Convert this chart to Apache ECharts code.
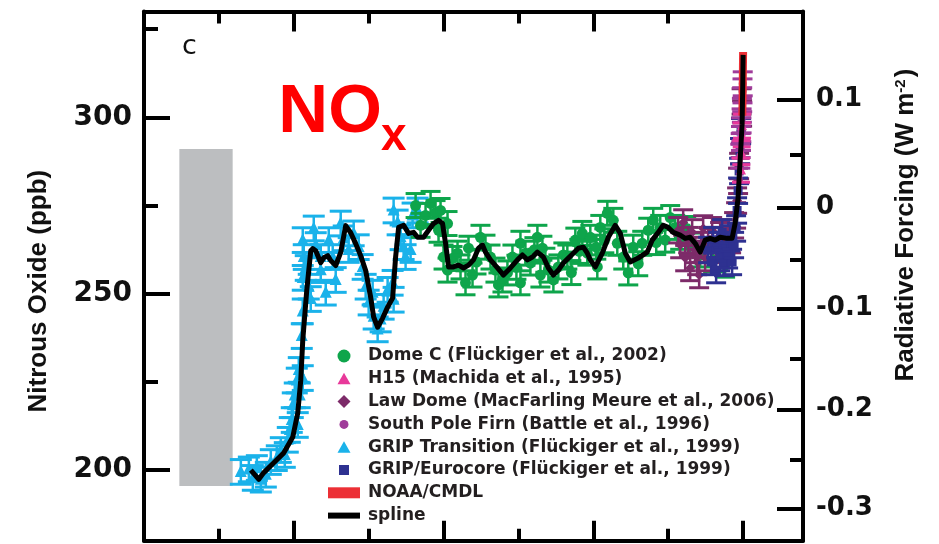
<!DOCTYPE html>
<html><head><meta charset="utf-8">
<script src="https://cdn.jsdelivr.net/npm/echarts@6/dist/echarts.min.js"></script>
<style>html,body{margin:0;padding:0;background:#fff}#c{width:939px;height:544px}</style>
</head><body><div id="c"></div>
<script>
// ---- Data (years before 2005, N2O ppb) ----
const splineYears = [16433,16167,16000,15667,15333,15033,14867,14767,14700,14567,14433,14367,14267,14100,14000,13867,13767,13600,13433,13267,13100,12933,12767,12600,12433,12333,12200,12033,11867,11700,11600,11500,11333,11167,11000,10867,10667,10500,10333,10167,10033,9933,9833,9667,9500,9333,9167,9000,8833,8700,8600,8433,8200,8000,7767,7533,7367,7200,7033,6867,6667,6500,6333,6167,6000,5833,5667,5500,5333,5200,5100,4933,4700,4500,4267,4100,3933,3767,3500,3200,3033,2833,2667,2500,2333,2100,1933,1767,1600,1433,1267,1100,933,767,533,367,267,167,100,33,10,0];
const splinePpb = [200.0,197.4,199.3,202.1,204.9,209.4,216.2,225.5,236.8,250.9,262.2,262.8,262.2,258.8,260.2,260.8,259.4,258.0,261.7,269.3,267.3,264.2,260.8,256.6,249.0,243.4,240.5,243.1,246.2,248.8,260.4,268.8,269.4,267.1,267.4,266.0,266.0,268.0,269.9,270.8,269.9,264.3,257.6,257.6,258.1,257.3,258.1,259.6,262.9,263.8,261.8,259.6,257.3,255.3,257.3,259.6,261.0,259.6,260.4,261.8,260.4,257.3,255.3,256.7,258.7,260.1,261.5,262.9,263.2,261.5,259.6,257.6,261.5,266.0,269.4,267.1,261.5,259.0,260.1,261.8,265.2,267.4,269.4,268.8,267.4,266.6,265.7,266.0,264.3,261.8,265.2,265.7,265.2,266.0,265.7,265.7,269.9,277.2,287.6,298.0,310.1,317.7];

const gripTransition = [[16767,199.5],[16500,200.2],[16367,197.8],[16233,200.6],[16100,197.3],[15933,198.7],[15767,202.3],[15567,203.4],[15433,205.7],[15300,204.3],[15200,208.6],[15133,211.4],[15067,214.2],[15033,218.4],[14967,221.2],[14900,225.4],[14867,212.8],[14833,228.4],[14800,221.2],[14700,226.1],[14733,238.0],[14700,245.0],[14700,265.2],[14667,260.4],[14700,254.5],[14600,257.3],[14500,252.0],[14433,248.5],[14333,268.5],[14267,263.8],[14100,260.4],[14100,256.7],[13933,250.3],[13833,265.2],[13700,260.4],[13600,253.9],[13433,269.9],[13333,265.7],[13167,262.4],[13000,267.1],[12833,263.2],[12700,257.6],[12600,252.0],[12500,247.5],[12367,250.3],[12333,243.5],[12200,239.9],[12100,242.7],[12000,246.3],[11867,251.1],[11700,253.1],[11667,248.3],[11667,273.6],[11533,270.2],[11433,266.0],[11333,263.2],[11267,260.4],[11100,262.4],[11033,272.2],[10867,273.6]];
const domeC = [[10933,275.0],[10767,269.4],[10600,272.2],[10433,275.6],[10267,273.0],[10167,268.0],[10100,273.6],[9867,269.9],[10000,260.4],[9867,256.7],[9700,260.0],[9533,261.5],[9433,257.6],[9267,253.1],[9167,262.9],[9033,255.3],[8900,259.0],[8767,266.0],[8600,263.2],[8433,260.4],[8267,256.7],[8167,252.5],[8033,253.9],[7867,255.9],[7700,260.4],[7567,257.5],[7433,264.3],[7433,253.1],[7267,261.5],[7100,258.7],[6967,262.5],[6867,266.0],[6767,255.3],[6700,262.9],[6600,259.5],[6500,256.7],[6333,253.9],[6167,257.6],[6000,261.0],[5867,260.4],[5733,256.0],[5600,265.2],[5467,262.0],[5367,267.1],[5200,261.5],[5100,266.0],[4900,263.2],[4867,257.6],[4767,268.8],[4633,265.0],[4533,272.8],[4333,270.8],[4200,264.3],[4000,260.4],[3833,255.9],[3667,263.2],[3500,258.5],[3367,264.3],[3167,268.0],[3000,270.8],[2900,264.5],[2767,268.8],[2600,265.2],[2433,271.6],[2267,268.8],[2100,266.0],[1900,268.5],[1767,263.8],[1433,261.0],[1000,259.6],[600,258.1]];
const lawDome = [[2167,268.0],[2100,263.8],[2000,270.2],[1933,260.1],[1833,265.2],[1767,257.3],[1700,267.4],[1600,262.4],[1533,259.0],[1467,255.3],[1400,263.8],[1333,268.5],[1267,260.1],[1167,265.2],[1033,268.0],[900,262.4],[767,266.6],[633,263.8],[500,267.4],[400,265.2],[300,269.4],[233,272.2],[200,276.4],[167,282.0],[133,286.2],[100,290.4],[67,296.1],[50,304.5],[33,301.1]];
const gripEurocore = [[1167,262.4],[1067,259.0],[1000,265.2],[900,256.7],[833,263.8],[767,260.1],[700,267.4],[633,258.7],[567,262.9],[500,260.9],[433,265.7],[367,259.0],[300,263.8],[233,268.5],[200,273.6],[167,279.2],[133,284.8],[100,290.4],[67,296.1]];
const southPoleFirn = [[95,289.0],[80,292.0],[70,294.0],[60,296.5],[50,299.0],[40,302.0],[30,305.0],[20,307.5],[12,309.5]];
const h15 = [[70,285.0],[60,290.0],[45,295.0],[35,297.5]];
const noaaYears = [27,20,15,10,5,0];
const noaaPpb = [300.5,303.5,306.5,310.5,314.5,318.5];
const grayBarYears = [18820,17040];
const grayBarPpb = [195.5,291.0];

const errGrip = 3.5, errDomeC = 3.4, errLaw = 3.6, errEuro = 3.6, errFirn = 3.4, errH15 = 3.4;

const ppbTicksMajor = [200,250,300];
const ppbTicksMinor = [225,275,325];
const rfLabels = ['0.1','0','-0.1','-0.2','-0.3'];
const rfTickPpb = [305.0,274.4,245.8,217.2,189.1];
const rfMinorPpb = [289.4,259.6,231.6,202.9];
const yearTicksMajor = [0,5000,10000,15000];
const yearTicksMinor = [2500,7500,12500,17500];

const names = {
  domeC:'Dome C (Flückiger et al., 2002)',
  h15:'H15 (Machida et al., 1995)',
  law:'Law Dome (MacFarling Meure et al., 2006)',
  firn:'South Pole Firn (Battle et al., 1996)',
  grip:'GRIP Transition (Flückiger et al., 1999)',
  euro:'GRIP/Eurocore (Flückiger et al., 1999)',
  noaa:'NOAA/CMDL',
  spline:'spline'
};

function marker(shape, cx, cy, s, color) {
  if (shape === 'circle') return {type:'circle', shape:{cx, cy, r:s/2}, style:{fill:color}};
  if (shape === 'rect') return {type:'rect', shape:{x:cx-s/2, y:cy-s/2, width:s, height:s}, style:{fill:color}};
  if (shape === 'diamond') return {type:'polygon', shape:{points:[[cx,cy-s/2],[cx+s/2,cy],[cx,cy+s/2],[cx-s/2,cy]]}, style:{fill:color}};
  return {type:'polygon', shape:{points:[[cx,cy-s*0.58],[cx-s/2,cy+s*0.42],[cx+s/2,cy+s*0.42]]}, style:{fill:color}};
}
function errSeries(name, data, err, color, shape, size, capW, z) {
  return {
    name, type:'custom', z, color, itemStyle:{color},
    dimensions:['yr','ppb','err'],
    encode:{x:0, y:1},
    data: data.map(d => [d[0], d[1], err]),
    renderItem: function (params, api) {
      const x = api.value(0), y = api.value(1), e = api.value(2);
      const p = api.coord([x, y]);
      const lo = api.coord([x, y - e]);
      const hi = api.coord([x, y + e]);
      const hw = capW / 2;
      return {type:'group', children:[
        {type:'line', shape:{x1:p[0], y1:lo[1], x2:p[0], y2:hi[1]}, style:{stroke:color, lineWidth:2.5}},
        {type:'line', shape:{x1:p[0]-hw, y1:lo[1], x2:p[0]+hw, y2:lo[1]}, style:{stroke:color, lineWidth:3}},
        {type:'line', shape:{x1:p[0]-hw, y1:hi[1], x2:p[0]+hw, y2:hi[1]}, style:{stroke:color, lineWidth:3}},
        marker(shape, p[0], p[1], size, color)
      ]};
    }
  };
}

const chart = echarts.init(document.getElementById('c'), null, {renderer:'canvas'});
const tickFont = {fontFamily:'DejaVu Sans', fontWeight:'bold', color:'#111'};
const xBase = {type:'value', min:-2000, max:20000, inverse:true, gridIndex:0,
  axisLabel:{show:false}, splitLine:{show:false}};
const yBase = {type:'value', min:180, max:330, splitLine:{show:false}};
const frameLine = {show:true, onZero:false, lineStyle:{color:'#000', width:4}};
const noLine = {show:false, onZero:false};
const triIcon = 'path://M0,0M13,13M6.5,0.5L13,12L0,12Z';

const option = {
  backgroundColor:'#fff',
  animation:false,
  grid:{left:144, right:136, top:11.5, bottom:3.3, containLabel:false, outerBoundsMode:'none'},
  xAxis:[
    Object.assign({}, xBase, {position:'bottom', axisLine:frameLine,
      axisTick:{show:true, inside:true, length:20, customValues:yearTicksMajor, lineStyle:{color:'#000', width:4}}}),
    Object.assign({}, xBase, {position:'bottom', axisLine:noLine,
      axisTick:{show:true, inside:true, length:12, customValues:yearTicksMinor, lineStyle:{color:'#000', width:4}}}),
    Object.assign({}, xBase, {position:'top', axisLine:frameLine,
      axisTick:{show:true, inside:true, length:20, customValues:yearTicksMajor, lineStyle:{color:'#000', width:4}}}),
    Object.assign({}, xBase, {position:'top', axisLine:noLine,
      axisTick:{show:true, inside:true, length:12, customValues:yearTicksMinor, lineStyle:{color:'#000', width:4}}})
  ],
  yAxis:[
    Object.assign({}, yBase, {position:'left', axisLine:frameLine,
      axisTick:{show:true, inside:true, length:26, customValues:ppbTicksMajor, lineStyle:{color:'#000', width:4}},
      axisLabel:{show:true, customValues:ppbTicksMajor, margin:12, fontSize:28, ...tickFont},
      name:'Nitrous Oxide (ppb)', nameLocation:'middle', nameGap:92,
      nameTextStyle:{fontFamily:'Liberation Sans', fontWeight:'bold', fontSize:26, color:'#111', padding:[0,30,0,0]}}),
    Object.assign({}, yBase, {position:'left', axisLine:noLine, axisLabel:{show:false},
      axisTick:{show:true, inside:true, length:14, customValues:ppbTicksMinor, lineStyle:{color:'#000', width:4}}}),
    Object.assign({}, yBase, {position:'right', axisLine:frameLine,
      axisTick:{show:true, inside:true, length:26, customValues:rfTickPpb, lineStyle:{color:'#000', width:4}},
      axisLabel:{show:true, customValues:rfTickPpb, margin:13, fontSize:26, ...tickFont,
        formatter:function(v){ let bi=0; rfTickPpb.forEach((t,i)=>{ if (Math.abs(t-v) < Math.abs(rfTickPpb[bi]-v)) bi=i; }); return rfLabels[bi]; }},
      name:'Radiative Forcing (W m{sup|-2})', nameLocation:'middle', nameGap:90,
      nameTextStyle:{fontFamily:'Liberation Sans', fontWeight:'bold', fontSize:26, color:'#111', padding:[0,0,0,102],
        rich:{sup:{fontFamily:'Liberation Sans', fontWeight:'bold', fontSize:15, color:'#111', verticalAlign:'top', lineHeight:14, padding:[0,2,10,0]}}}}),
    Object.assign({}, yBase, {position:'right', axisLine:noLine, axisLabel:{show:false},
      axisTick:{show:true, inside:true, length:13, customValues:rfMinorPpb, lineStyle:{color:'#000', width:4}}})
  ],
  legend:{
    orient:'vertical', left:323, top:342, itemWidth:32, itemHeight:13, itemGap:4.8, selectedMode:false,
    symbolKeepAspect:true,
    textStyle:{fontFamily:'DejaVu Sans', fontWeight:'bold', fontSize:17, color:'#231f20', lineHeight:18, padding:[0,0,0,3]},
    data:[
      {name:names.domeC, icon:'circle', symbolKeepAspect:true},
      {name:names.h15, icon:triIcon, symbolKeepAspect:true},
      {name:names.law, icon:'path://M0,0M13,13M6.5,0L13,6.5L6.5,13L0,6.5Z', symbolKeepAspect:true},
      {name:names.firn, icon:'path://M0,0M13,13M2,6.5a4.5,4.5 0 1,0 9,0a4.5,4.5 0 1,0 -9,0z', symbolKeepAspect:true},
      {name:names.grip, icon:triIcon, symbolKeepAspect:true},
      {name:names.euro, icon:'path://M0,0M13,13M1.5,1.5h10v10h-10z', symbolKeepAspect:true},
      {name:names.noaa, icon:'path://M0,0h32v11h-32z', symbolKeepAspect:true},
      {name:names.spline, icon:'path://M0,0h32v6h-32z', symbolKeepAspect:true}
    ]
  },
  graphic:[
    {type:'text', x:189.5, y:47, style:{text:'c', font:'27px "DejaVu Sans"', fill:'#111', textAlign:'center', textVerticalAlign:'middle'}},
    {type:'text', x:278.3, y:113.3, style:{text:'NO', font:'bold 69px "Liberation Sans"', fill:'#ff0000', textAlign:'left', textVerticalAlign:'middle'}},
    {type:'text', x:381, y:137.5, style:{text:'x', font:'bold 46px "Liberation Sans"', fill:'#ff0000', textAlign:'left', textVerticalAlign:'middle'}}
  ],
  series:[
    errSeries(names.grip, gripTransition, errGrip, '#1ab2ea', 'triangle', 12, 22, 2),
    errSeries(names.domeC, domeC, errDomeC, '#0ea54b', 'circle', 11, 20, 3),
    errSeries(names.law, lawDome, errLaw, '#7d2b69', 'diamond', 10, 20, 4),
    errSeries(names.euro, gripEurocore, errEuro, '#2e3191', 'rect', 9, 20, 5),
    errSeries(names.firn, southPoleFirn, errFirn, '#a03c9a', 'circle', 8, 20, 6),
    errSeries(names.h15, h15, errH15, '#e8399a', 'triangle', 10, 18, 7),
    {name:names.noaa, type:'line', z:8, color:'#ec2f35', showSymbol:false, symbol:'none',
      lineStyle:{color:'#ec2f35', width:8},
      data: noaaYears.map((y,i)=>[y, noaaPpb[i]]),
      markArea:{silent:true, itemStyle:{color:'#bcbec0', opacity:1},
        data:[[{xAxis:grayBarYears[0], yAxis:grayBarPpb[0]},{xAxis:grayBarYears[1], yAxis:grayBarPpb[1]}]]}},
    {name:names.spline, type:'line', z:9, color:'#000', showSymbol:false, symbol:'none',
      lineStyle:{color:'#000', width:5, join:'round'},
      data: splineYears.map((y,i)=>[y, splinePpb[i]])}
  ]
};
chart.setOption(option);
</script>
</body></html>
